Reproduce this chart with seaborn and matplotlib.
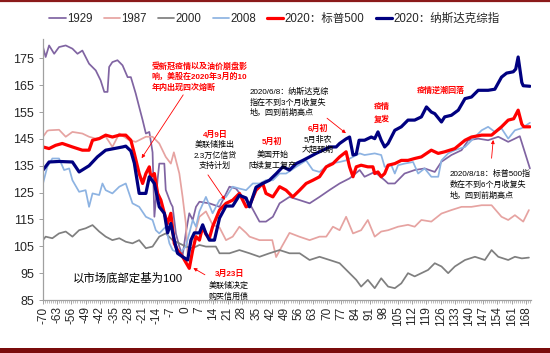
import numpy as np
import pandas as pd
import matplotlib
matplotlib.use("Agg")
import matplotlib.pyplot as plt
import seaborn as sns
from matplotlib.lines import Line2D
from matplotlib.patches import Rectangle

# ---------------- data (index, market bottom = 100) ----------------
SERIES = ["1929", "1987", "2000", "2008", "2020：标普500", "2020：纳斯达克综指"]

DAYS_1929 = [-70, -68.7, -67.0, -64.5, -62.1, -58.8, -55.5, -53.0, -50.6, -47.3,
             -44.0, -41.6, -39.8, -38.2, -37.4, -35.8, -33.3, -30.8, -28.3, -26.7,
             -24.3, -22.6, -20.9, -19.3, -17.6, -16.0, -15.1, -13.5, -12.7, -10.2,
             -9.5, -7.0, -6.1, -4.5, -2.8, -1.2, 0.4, 2.1, 3.8, 5.4,
             7.1, 12.0, 17.0, 21.9, 25.1, 28.4, 31.8, 36.7, 39.9, 43.3,
             46.6, 51.5, 56.5, 61.4, 66.3, 71.3, 76.2, 81.1, 86.1, 88.5,
             93.5, 98.4, 100.1, 103.4, 108.2, 113.2, 118.1, 123.1, 126.4, 131.3,
             136.3, 139.6, 144.5, 149.4, 154.4, 159.3, 162.6, 165.0, 167.5, 170]
IDX_1929 = [179.2, 175.5, 179.8, 176.7, 179.2, 179.8, 178.6, 176.7, 177.9, 173.0,
            170.5, 166.8, 162.5, 162.5, 171.8, 173.6, 174.3, 172.4, 168.0, 168.0,
            161.9, 156.9, 152.0, 147.0, 147.6, 140.0, 116.0, 130.0, 135.8, 135.8,
            126.0, 121.0, 119.7, 109.8, 104.9, 101.5, 110.0, 117.3, 114.8, 119.7,
            121.6, 121.0, 119.7, 127.2, 126.5, 123.4, 121.0, 114.2, 114.2, 116.0,
            121.0, 123.4, 122.2, 121.0, 123.4, 126.0, 128.4, 130.3, 133.4, 130.9,
            132.7, 129.6, 128.4, 128.4, 132.1, 133.4, 134.0, 132.7, 136.5, 139.0,
            140.8, 144.5, 145.1, 144.5, 145.8, 143.9, 145.1, 146.0, 140.0, 134.0]

DAYS_1987 = [-70, -67.9, -67.0, -62.1, -58.8, -55.5, -50.6, -47.3, -44.0, -39.1,
             -37.4, -35.8, -32.4, -27.5, -24.3, -19.3, -16.0, -12.7, -9.5, -7.0,
             -5.5, -2.8, -1.2, 0.4, 1.3, 3.0, 5.0, 7.1, 10.3, 13.6,
             17.0, 20.2, 23.5, 26.8, 30.1, 31.8, 36.7, 39.9, 43.0, 44.9,
             47.7, 51.5, 56.3, 61.4, 66.3, 69.6, 72.9, 76.2, 79.4, 82.8,
             86.8, 90.1, 93.5, 96.7, 100.1, 105.0, 109.9, 113.2, 116.5, 121.4,
             126.4, 131.3, 136.3, 141.2, 146.2, 151.1, 156.0, 159.3, 162.6, 166.7,
             169.5]
IDX_1987 = [145.8, 148.0, 148.2, 148.4, 145.8, 147.6, 147.0, 145.8, 145.1, 145.8,
            143.9, 142.0, 147.0, 144.5, 143.9, 145.8, 145.8, 143.3, 138.3, 135.8,
            140.0, 132.1, 123.4, 113.5, 101.5, 106.0, 110.0, 116.0, 118.0, 113.0,
            112.0, 107.3, 108.6, 112.3, 110.0, 108.6, 107.3, 107.3, 107.3, 101.0,
            104.9, 110.0, 108.6, 107.3, 108.6, 108.6, 112.3, 111.0, 116.0, 109.8,
            111.0, 114.8, 108.6, 110.5, 111.0, 112.3, 113.0, 112.3, 114.8, 114.2,
            117.2, 118.5, 119.7, 119.7, 120.3, 120.3, 116.0, 114.8, 116.6, 114.2,
            118.5]

DAYS_2000 = [-70, -68.7, -65.4, -62.1, -58.8, -55.5, -52.2, -49.0, -45.6, -42.3,
             -39.1, -35.8, -32.4, -29.2, -25.9, -22.6, -19.3, -16.0, -12.7, -9.5,
             -6.1, -2.8, 0.4, 3.8, 7.1, 10.3, 15.2, 17.0, 21.9, 26.8,
             31.8, 36.7, 41.6, 46.6, 51.5, 56.5, 61.4, 66.3, 71.3, 76.2,
             81.1, 84.4, 86.8, 90.1, 93.5, 96.7, 100.1, 103.4, 106.6, 109.9,
             113.2, 116.5, 119.8, 123.1, 126.4, 129.7, 133.0, 138.0, 142.9, 147.8,
             151.1, 154.4, 159.3, 162.6, 166.0, 169.5]
IDX_2000 = [107.3, 108.6, 108.0, 109.8, 110.5, 108.6, 111.0, 111.7, 112.9, 110.5,
            108.6, 107.3, 108.0, 106.7, 106.1, 107.3, 104.3, 104.9, 108.6, 109.8,
            107.3, 106.1, 104.9, 104.3, 105.5, 104.9, 104.9, 102.4, 102.4, 103.6,
            102.4, 101.1, 102.4, 103.6, 102.4, 102.4, 99.9, 101.1, 99.9, 98.7,
            95.0, 92.5, 90.0, 92.5, 89.4, 93.1, 90.0, 89.4, 91.2, 95.0,
            93.8, 95.0, 96.2, 98.7, 97.5, 95.0, 97.5, 99.9, 101.1, 99.9,
            103.6, 101.1, 99.9, 101.1, 100.5, 100.8]

DAYS_2008 = [-70, -67.9, -65.4, -62.1, -59.6, -57.1, -55.5, -52.2, -49.0, -47.3,
             -45.6, -42.3, -40.7, -39.1, -35.8, -32.4, -29.2, -25.9, -22.6, -19.3,
             -16.0, -14.4, -12.7, -9.5, -7.7, -6.1, -2.8, 0.4, 3.8, 5.4,
             7.1, 10.3, 13.6, 17.0, 20.2, 23.5, 26.8, 30.1, 33.4, 36.7,
             39.9, 43.3, 46.6, 49.8, 54.8, 59.7, 63.0, 66.3, 71.3, 76.2,
             79.4, 82.8, 86.1, 88.5, 93.5, 96.7, 98.4, 101.7, 103.4, 105.0,
             108.2, 112.4, 114.9, 118.1, 121.4, 124.8, 126.4, 129.7, 133.0, 138.0,
             142.9, 146.2, 149.4, 152.7, 156.0, 159.3, 162.6, 166.0, 170]
IDX_2008 = [128.4, 134.6, 137.7, 137.7, 133.4, 134.0, 129.6, 125.3, 125.9, 119.7,
            124.7, 124.1, 128.4, 125.9, 124.7, 127.2, 128.4, 121.0, 119.7, 116.0,
            114.8, 111.0, 109.8, 112.3, 106.1, 103.6, 102.4, 104.9, 114.8, 112.3,
            118.0, 123.4, 117.3, 122.2, 123.4, 127.2, 126.5, 125.9, 128.4, 128.4,
            129.6, 129.6, 132.1, 132.1, 134.6, 137.0, 133.4, 132.7, 135.8, 136.4,
            137.0, 138.3, 139.6, 139.0, 139.6, 139.0, 134.6, 135.2, 132.1, 135.2,
            135.8, 136.4, 132.1, 134.0, 130.9, 130.9, 137.0, 139.6, 140.8, 142.0,
            145.7, 148.2, 149.5, 147.6, 148.9, 145.1, 148.2, 149.0, 151.0]

DAYS_SPX = [-70, -67.0, -63.8, -60.5, -55.5, -50.6, -47.3, -45.6, -42.3, -39.1,
            -35.8, -32.4, -29.2, -26.7, -25.0, -22.6, -20.9, -19.3, -17.6, -16.9,
            -15.1, -13.5, -11.9, -10.2, -8.6, -7.0, -5.3, -3.7, -1.2, 2.1,
            3.8, 5.4, 7.1, 8.7, 10.3, 12.0, 13.6, 17.0, 20.2, 23.5,
            26.8, 30.1, 31.8, 35.0, 38.3, 39.9, 43.3, 46.6, 49.8, 53.1,
            56.5, 59.7, 63.0, 66.3, 69.6, 72.9, 76.2, 79.4, 81.1, 82.8,
            84.4, 86.8, 90.1, 92.6, 93.5, 95.1, 96.7, 98.4, 100.1, 103.4,
            106.6, 109.9, 113.2, 116.5, 121.4, 124.8, 128.0, 133.0, 138.0, 141.2,
            146.2, 151.1, 156.0, 159.3, 162.0, 164.2, 166.0, 167.0, 170]
IDX_SPX = [142.0, 141.4, 142.6, 143.3, 142.0, 140.8, 140.8, 144.5, 145.1, 146.4,
           145.7, 146.4, 146.4, 144.5, 139.6, 132.1, 128.4, 132.1, 134.6, 130.9,
           132.1, 124.7, 122.2, 117.3, 113.5, 117.3, 106.1, 103.6, 101.1, 96.8,
           103.6, 108.6, 107.3, 112.3, 109.5, 108.0, 112.3, 118.5, 121.0, 122.2,
           124.7, 119.7, 120.3, 125.9, 128.4, 124.7, 123.4, 127.2, 125.9, 123.4,
           125.9, 128.4, 129.6, 130.9, 134.6, 135.8, 138.3, 140.2, 134.6, 130.9,
           134.6, 135.2, 134.6, 134.6, 132.1, 132.7, 130.9, 132.1, 135.2, 135.8,
           137.0, 137.0, 137.7, 138.3, 140.8, 139.6, 140.2, 141.4, 144.5, 145.7,
           146.4, 146.4, 149.5, 152.0, 152.5, 155.7, 150.5, 149.5, 149.5]

DAYS_NDX = [-70, -67.0, -62.1, -55.5, -52.2, -47.3, -43.2, -39.1, -30.8, -29.2,
            -26.7, -25.0, -22.6, -19.3, -17.6, -15.1, -12.7, -10.2, -8.6, -7.0,
            -5.3, -3.7, -1.2, 1.3, 2.9, 4.6, 7.1, 8.7, 10.3, 12.0,
            14.5, 17.0, 20.2, 23.5, 26.8, 30.1, 31.8, 35.0, 38.3, 41.6,
            44.9, 48.2, 51.5, 54.8, 58.1, 61.4, 64.6, 68.0, 71.3, 74.5,
            76.2, 79.4, 81.1, 82.8, 84.4, 85.8, 88.5, 91.8, 93.5, 95.1,
            96.7, 98.4, 100.1, 103.4, 106.6, 109.9, 113.2, 116.5, 119.0, 121.4,
            123.1, 126.4, 128.0, 131.3, 134.7, 138.0, 141.2, 144.5, 149.4, 152.7,
            156.0, 158.5, 161.8, 163.0, 164.2, 166.0, 166.7, 170]
IDX_NDX = [133.4, 136.4, 136.6, 136.4, 132.7, 135.0, 138.3, 140.8, 142.0, 142.3,
           140.5, 136.0, 124.7, 124.7, 130.9, 128.4, 119.7, 117.3, 110.0, 113.5,
           107.3, 102.4, 101.1, 99.9, 107.3, 110.0, 110.0, 113.0, 109.8, 107.3,
           107.3, 115.5, 120.0, 120.0, 124.0, 123.0, 119.7, 127.0, 128.4, 129.6,
           132.0, 134.6, 133.4, 135.8, 137.0, 138.3, 139.6, 140.8, 142.0, 142.0,
           143.3, 145.0, 145.7, 139.0, 139.3, 144.5, 144.5, 145.7, 145.1, 147.6,
           144.5, 142.0, 143.3, 148.2, 149.5, 152.0, 152.0, 153.2, 156.9, 155.0,
           154.4, 151.3, 153.2, 153.8, 155.7, 160.0, 160.6, 163.1, 163.1, 163.5,
           168.0, 169.5, 170.0, 171.0, 175.5, 166.0, 164.8, 164.6]

X_TICKS = list(range(-70, 169, 7))
Y_TICKS = list(range(85, 176, 10))

COLORS = ["#8064A2", "#E6A3A1", "#7F7F7F", "#8DB3E2", "#FF0000", "#000080"]
WIDTHS = [1.25, 1.25, 1.25, 1.25, 2.3, 2.3]

# ---------------- long-form table ----------------
pairs = [(DAYS_1929, IDX_1929), (DAYS_1987, IDX_1987), (DAYS_2000, IDX_2000),
         (DAYS_2008, IDX_2008), (DAYS_SPX, IDX_SPX), (DAYS_NDX, IDX_NDX)]
frames = []
for name, (d, v) in zip(SERIES, pairs):
    assert len(d) == len(v), name
    frames.append(pd.DataFrame({"day": d, "value": v, "series": name}))
df = pd.concat(frames, ignore_index=True)

# ---------------- figure ----------------
sns.set_theme(style="white")
plt.rcParams["font.family"] = ["Liberation Sans", "Noto Sans CJK SC", "DejaVu Sans"]
plt.rcParams["axes.unicode_minus"] = False

fig = plt.figure(figsize=(5.5, 3.53), dpi=100)
ax = fig.add_axes([0.0782, 0.1501, 0.8864, 0.7394])

for name, c, lw in zip(SERIES, COLORS, WIDTHS):
    sub = df[df["series"] == name]
    sns.lineplot(data=sub, x="day", y="value", ax=ax, color=c, linewidth=lw,
                 estimator=None, sort=False, legend=False,
                 solid_joinstyle="round", solid_capstyle="round")

ax.set_xlim(-70, 170.3)
ax.set_ylim(85, 182.2)
ax.set_xlabel("")
ax.set_ylabel("")
ax.set_xticks(X_TICKS)
ax.set_xticklabels([str(t) for t in X_TICKS], rotation=90)
ax.set_xticks(np.arange(-70, 171, 1), minor=True)
ax.set_yticks(Y_TICKS)
ax.set_yticklabels([str(t) for t in Y_TICKS])
for s in ["top", "right"]:
    ax.spines[s].set_visible(False)
for s in ["left", "bottom"]:
    ax.spines[s].set_color("#A0A0A0")
    ax.spines[s].set_linewidth(0.9)
ax.tick_params(axis="x", which="major", direction="out", length=2.6, width=0.7,
               color="#A0A0A0", labelsize=8.5, pad=2, bottom=True)
ax.tick_params(axis="x", which="minor", direction="out", length=2.4, width=0.5,
               color="#A0A0A0", bottom=True)
ax.tick_params(axis="y", direction="out", length=2.9, width=0.7,
               color="#A0A0A0", labelsize=9, pad=3.4, left=True)
ax.grid(False)

# ---------------- legend ----------------
handles = [Line2D([], [], color=c, lw=lw) for c, lw in zip(COLORS, WIDTHS)]
fig.legend(handles, SERIES, loc="center", bbox_to_anchor=(0.499, 0.946), ncol=6,
           frameon=False, fontsize=8.3, handlelength=1.4, handletextpad=0.1,
           columnspacing=1.0, borderaxespad=0, borderpad=0)

# ---------------- annotations ----------------
FAM = ["Liberation Sans", "Noto Sans CJK SC", "DejaVu Sans"]
RED = "#FF0000"


def put(x, y, s, color="black", size=5.8, ha="left", weight="normal"):
    ax.text(x, y, s, color=color, fontsize=size, ha=ha, va="center",
            fontweight=weight, family=FAM)


def arrow(x0, y0, x1, y1):
    ax.annotate("", xy=(x1, y1), xytext=(x0, y0),
                arrowprops=dict(arrowstyle="-|>", color=RED, lw=0.6,
                                mutation_scale=5, shrinkA=0, shrinkB=0))


# pandemic / circuit breakers
put(-16.3, 172.1, "受新冠疫情以及油价崩盘影", RED, weight="bold")
put(-16.3, 168.2, "响，美股在2020年3月的10", RED, weight="bold")
put(-16.3, 164.2, "年内出现四次熔断", RED, weight="bold")
arrow(-0.9, 161.4, -21.4, 137.8)

# 2020/6/8 Nasdaq
put(32.0, 162.6, "2020/6/8：纳斯达克综")
put(32.0, 158.6, "指在不到3个月收复失")
put(32.0, 154.5, "地，回到前期高点")
arrow(70.0, 152.7, 79.3, 147.1)

# April 9
put(14.8, 146.5, "4月9日", RED, ha="center", weight="bold")
put(14.8, 142.6, "美联储推出", ha="center")
put(14.8, 138.7, "2.3万亿信贷", ha="center")
put(14.8, 134.8, "支持计划", ha="center")
arrow(11.3, 131.6, 19.7, 122.3)

# early May
put(43.0, 143.9, "5月初", RED, ha="center", weight="bold")
put(43.0, 139.2, "美国开始", ha="center")
put(43.0, 135.0, "陆续复工复产", ha="center")

# early June
put(65.5, 148.7, "6月初", RED, ha="center", weight="bold")
put(65.5, 144.8, "5月非农", ha="center")
put(65.5, 140.9, "大超预期", ha="center")

# March 23
put(21.7, 94.8, "3月23日", RED, ha="center", weight="bold")
put(21.7, 90.3, "美联储决定", ha="center")
put(21.7, 86.4, "购买信用债", ha="center")
arrow(9.8, 94.4, 4.1, 96.9)

put(-55.5, 93.3, "以市场底部定基为100", size=8.2)

put(97.1, 156.9, "疫情", RED, ha="center", weight="bold")
put(97.1, 152.2, "复发", RED, ha="center", weight="bold")
put(126.2, 163.0, "疫情逆潮回落", RED, ha="center", weight="bold")

put(130.6, 132.0, "2020/8/18：标普500指")
put(130.6, 127.9, "数在不到6个月收复失")
put(130.6, 123.8, "地，回到前期高点")
arrow(151.1, 137.8, 151.9, 144.6)

# ---------------- decorative frame bars ----------------
fig.add_artist(Line2D([0, 1], [1 - 1.2 / 353, 1 - 1.2 / 353], transform=fig.transFigure,
                      color="#8B1A1A", lw=1.6))
fig.add_artist(Rectangle((0, 0), 1, 5 / 353, transform=fig.transFigure,
                         color="#7A0C0C", lw=0))

fig.savefig("out.png", dpi=100)
